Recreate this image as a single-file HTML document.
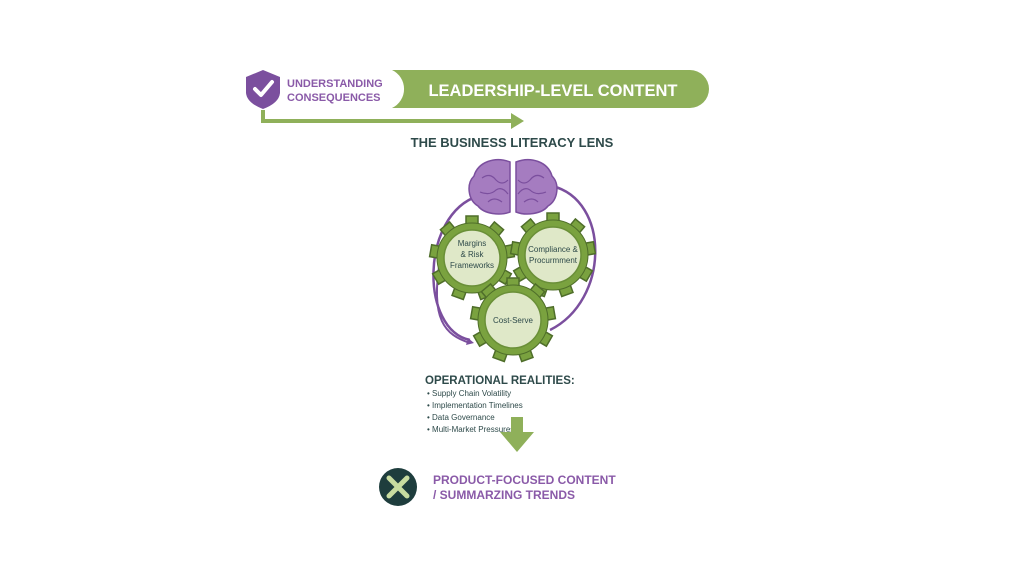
<!DOCTYPE html>
<html><head><meta charset="utf-8"><style>
html,body{margin:0;padding:0;background:#fff;}
svg{display:block;font-family:"Liberation Sans",sans-serif;}
</style></head><body>
<svg width="1024" height="576" viewBox="0 0 1024 576">
<!-- green pill -->
<path d="M392,70 L690,70 A19,19 0 0 1 690,108 L392,108 A21,21 0 0 0 392,70 Z" fill="#8fb05a"/>
<text x="553" y="96" font-size="16.5" font-weight="bold" fill="#fff" text-anchor="middle">LEADERSHIP-LEVEL CONTENT</text>
<!-- shield -->
<path d="M263,70 L280,77 L280,93 Q279,103 263,109 Q247,103 246,93 L246,77 Z" fill="#7b4f9e"/>
<path d="M255,89 L261,95 L272,82" stroke="#fff" stroke-width="4" fill="none" stroke-linecap="round" stroke-linejoin="round"/>
<text x="287" y="87" font-size="11" font-weight="bold" fill="#8a5aa8">UNDERSTANDING</text>
<text x="287" y="101" font-size="11" font-weight="bold" fill="#8a5aa8">CONSEQUENCES</text>
<!-- arrow -->
<path d="M263,110 L263,121 L513,121" stroke="#8fb05a" stroke-width="4" fill="none"/>
<path d="M511,113 L524,121 L511,129 Z" fill="#8fb05a"/>
<text x="512" y="147" font-size="13" font-weight="bold" fill="#2e4a4a" text-anchor="middle">THE BUSINESS LITERACY LENS</text>
<!-- loops -->
<path d="M478,196 C420,215 420,330 470,340" stroke="#7b4f9e" stroke-width="2.5" fill="none"/>
<path d="M440,260 C430,320 445,335 470,343" stroke="#7b4f9e" stroke-width="2" fill="none"/>
<path d="M468,338 L474,343 L466,345 Z" fill="#7b4f9e"/>
<path d="M552,186 C610,200 610,300 550,330" stroke="#7b4f9e" stroke-width="2.5" fill="none"/>
<!-- brain -->
<g fill="#a57cc0" stroke="#7b4f9e" stroke-width="1.5">
<path d="M510,162 C495,156 478,162 474,176 C466,184 468,200 478,206 C484,214 500,216 510,212 Z"/>
<path d="M516,162 C531,156 548,162 552,176 C560,184 558,200 548,206 C542,214 526,216 516,212 Z"/>
</g>
<g stroke="#7b4f9e" stroke-width="1.2" fill="none">
<path d="M482,178 q8,-6 14,2 q6,6 12,0 M480,192 q10,4 16,-2 q6,-4 12,4 M488,202 q6,-6 14,0"/>
<path d="M544,178 q-8,-6 -14,2 q-6,6 -12,0 M546,192 q-10,4 -16,-2 q-6,-4 -12,4 M538,202 q-6,-6 -14,0"/>
</g>
<!-- gears -->
<defs>
<g id="gear">
<g fill="#7aa23f" stroke="#4f6e2a" stroke-width="1.5">
<rect x="-6" y="-42" width="12" height="10"/>
<rect x="-6" y="-42" width="12" height="10" transform="rotate(40)"/>
<rect x="-6" y="-42" width="12" height="10" transform="rotate(80)"/>
<rect x="-6" y="-42" width="12" height="10" transform="rotate(120)"/>
<rect x="-6" y="-42" width="12" height="10" transform="rotate(160)"/>
<rect x="-6" y="-42" width="12" height="10" transform="rotate(200)"/>
<rect x="-6" y="-42" width="12" height="10" transform="rotate(240)"/>
<rect x="-6" y="-42" width="12" height="10" transform="rotate(280)"/>
<rect x="-6" y="-42" width="12" height="10" transform="rotate(320)"/>
</g>
<circle r="35" fill="#7aa23f" stroke="#4f6e2a" stroke-width="1"/>
<circle r="28" fill="#dfe8c8" stroke="#6a8f38" stroke-width="1.5"/>
</g>
</defs>
<use href="#gear" x="472" y="258"/>
<use href="#gear" x="553" y="255"/>
<use href="#gear" x="513" y="320"/>
<g font-size="8" fill="#2e4a4a" text-anchor="middle">
<text x="472" y="246">Margins</text>
<text x="472" y="257">&amp; Risk</text>
<text x="472" y="268">Frameworks</text>
<text x="553" y="252">Compliance &amp;</text>
<text x="553" y="263">Procurmment</text>
<text x="513" y="323">Cost-Serve</text>
</g>
<!-- operational -->
<text x="425" y="384" font-size="11.5" font-weight="bold" fill="#2e4a4a">OPERATIONAL REALITIES:</text>
<g font-size="8" fill="#2e4a4a">
<text x="427" y="396">• Supply Chain Volatility</text>
<text x="427" y="408">• Implementation Timelines</text>
<text x="427" y="420">• Data Governance</text>
<text x="427" y="432">• Multi-Market Pressures</text>
</g>
<path d="M511,417 L523,417 L523,432 L534,432 L517,452 L500,432 L511,432 Z" fill="#8fb05a"/>
<!-- X -->
<circle cx="398" cy="487" r="19" fill="#1e3d3d"/>
<path d="M389,478 L407,496 M407,478 L389,496" stroke="#c8dca0" stroke-width="5" stroke-linecap="round"/>
<text x="433" y="484" font-size="12" font-weight="bold" fill="#8a5aa8">PRODUCT-FOCUSED CONTENT</text>
<text x="433" y="499" font-size="12" font-weight="bold" fill="#8a5aa8">/ SUMMARZING TRENDS</text>
</svg>
</body></html>
